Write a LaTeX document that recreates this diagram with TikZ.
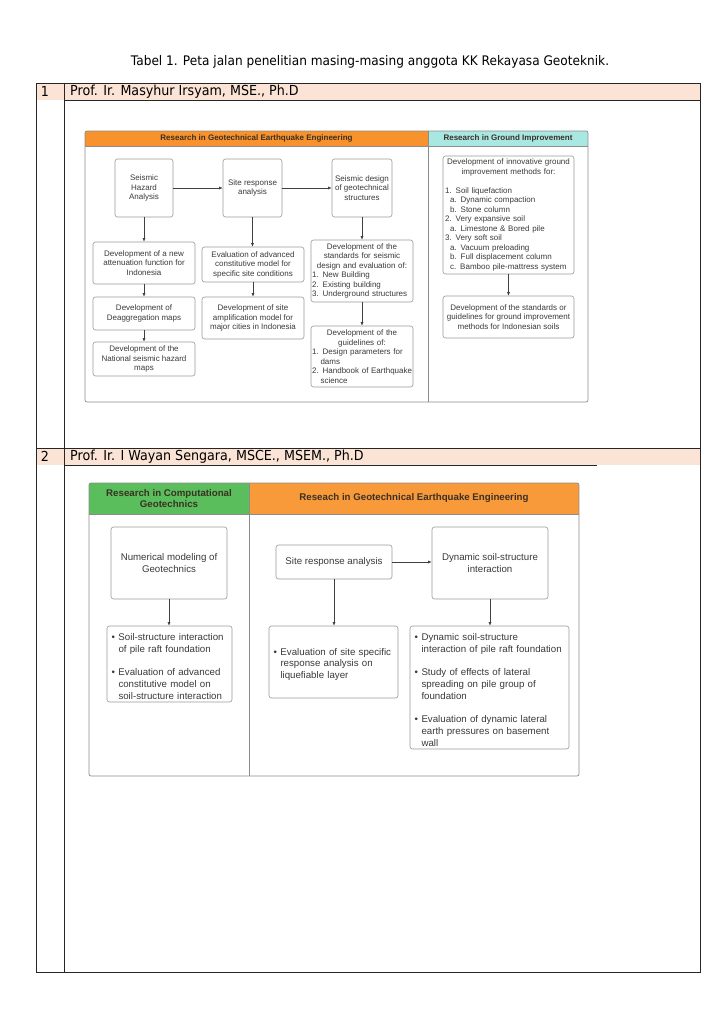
\documentclass[tikz,border=0pt]{standalone}
\usepackage{fontspec}
\setmainfont{Liberation Sans}
\newfontfamily\tabfont[FakeStretch=0.92]{DejaVu Sans}
\usetikzlibrary{arrows.meta}
\setlength{\parindent}{0pt}
\definecolor{peach}{HTML}{FBE4D5}
\definecolor{dorange}{HTML}{F7922C}
\definecolor{dorangeb}{HTML}{F89A3A}
\definecolor{dcyan}{HTML}{A9E8E2}
\definecolor{dgreen}{HTML}{5BBE5C}
\definecolor{boxgray}{HTML}{9A9A9A}
\definecolor{framegray}{HTML}{8C8C8C}
\definecolor{txtgray}{HTML}{3A3A3A}
\definecolor{hdrtxt}{HTML}{3B3025}
\newcommand{\fa}{\fontsize{8}{9.5}\selectfont}
\newcommand{\fb}{\fontsize{9.7}{11.8}\selectfont}
\newcommand{\hpar}[1]{\par\hangindent=#1\hangafter=1\noindent}
\newcommand{\bpar}{\par\hangindent=10pt\hangafter=1\noindent\makebox[10pt][l]{\hspace{3pt}\textbullet}}
\begin{document}
\begin{tikzpicture}[x=1pt,y=-1pt,
 tabline/.style={draw=black!85,line width=0.8pt},
 tabtext/.style={font=\tabfont\fontsize{13.2}{15}\selectfont, inner sep=0pt, text=black},
 tabhead/.style={font=\tabfont\fontsize{13.8}{15}\selectfont, inner sep=0pt, text=black},
 boxbase/.style={draw=boxgray, line width=0.6pt, rounded corners=2.5pt, fill=white, text=txtgray, inner ysep=1pt},
 bxa/.style={boxbase, font=\fa, align=center, inner xsep=1pt},
 bxat/.style={boxbase, font=\fa, inner xsep=1pt},
 bxb/.style={boxbase, font=\fb, align=center, inner xsep=2pt},
 bxbt/.style={boxbase, font=\fb, inner xsep=1.5pt},
 frame/.style={draw=framegray,line width=0.7pt,rounded corners=2pt},
 divline/.style={draw=framegray,line width=0.6pt},
 arr/.style={draw=black!75,line width=0.6pt,-{Latex[length=3.5pt,width=3pt]}},
 hdra/.style={font=\fa\bfseries, text=hdrtxt, inner sep=0pt},
 hdrb/.style={font=\fb\bfseries, text=hdrtxt, inner sep=0pt, align=center},
]
\useasboundingbox[fill=white] (0,0) rectangle (724,1024);
% ---------- table ----------
\fill[peach] (36,83) rectangle (700,100);
\fill[peach] (36,448) rectangle (700,465);
\draw[tabline] (36,83) rectangle (700,972);
\draw[tabline] (64,83) -- (64,972);
\draw[tabline] (64,100) -- (700,100);
\draw[tabline] (36,448) -- (700,448);
\draw[tabline] (64,465) -- (597,465);
\node[tabtext] (title) at (370,62) {Tabel 1. Peta jalan penelitian masing-masing anggota KK Rekayasa Geoteknik.};
\node[tabhead] (n1) at (45,91.5) {1};
\node[tabhead,anchor=west] (p1) at (70,91.5) {Prof. Ir. Masyhur Irsyam, MSE., Ph.D};
\node[tabhead] (n2) at (45,456.5) {2};
\node[tabhead,anchor=west] (p2) at (70,456.5) {Prof. Ir. I Wayan Sengara, MSCE., MSEM., Ph.D};
% ---------- diagram 1 frame ----------
\fill[white,rounded corners=2pt] (85,131) rectangle (588,402);
\begin{scope}
\clip[rounded corners=2pt] (85,131) rectangle (588,402);
\fill[dorange] (85,131) rectangle (428,146);
\fill[dcyan] (428,131) rectangle (588,146);
\end{scope}
\draw[divline] (85,146) -- (588,146);
\draw[divline] (428,131) -- (428,402);
\draw[frame] (85,131) rectangle (588,402);
\node[hdra] (h1a) at (256.5,138.5) {Research in Geotechnical Earthquake Engineering};
\node[hdra] (h1b) at (508,138.5) {Research in Ground Improvement};
% ---------- diagram 1 boxes ----------
\node[bxa, minimum width=58, minimum height=58] (sha) at (144,188) {Seismic\\Hazard\\Analysis};
\node[bxa, minimum width=59, minimum height=58] (sra) at (252.5,188) {Site response\\analysis};
\node[bxa, minimum width=60, minimum height=58] (sdg) at (362,188) {Seismic design\\of geotechnical\\structures};
\node[bxa, minimum width=102, minimum height=42] (att) at (144,263) {Development of a new\\attenuation function for\\Indonesia};
\node[bxa, minimum width=102, minimum height=33] (dea) at (144,313.5) {Development of\\Deaggregation maps};
\node[bxa, minimum width=102, minimum height=34] (nat) at (144,359) {Development of the\\National seismic hazard\\maps};
\node[bxa, minimum width=102, minimum height=35] (eva) at (253,264.5) {Evaluation of advanced\\constitutive model for\\specific site conditions};
\node[bxa, minimum width=102, minimum height=42] (amp) at (253,318) {Development of site\\amplification model for\\major cities in Indonesia};
\node[bxat, text width=100, minimum height=62] (std) at (362,271) {\centering Development of the\\standards for seismic\\design and evaluation of:\par\raggedright\mbox{1. New Building}\par\mbox{2. Existing building}\par\mbox{3. Underground structures}\par};
\node[bxat, text width=100, minimum height=61] (gdl) at (362,356.5) {\centering Development of the\\guidelines of:\par\raggedright\hpar{8.5pt}\mbox{1. Design parameters for}\newline\mbox{dams}\hpar{8.5pt}\mbox{2. Handbook of Earthquake}\newline\mbox{science}\par};
\node[bxat, text width=127, inner xsep=2pt, minimum height=118] (gi1) at (508.5,215) {\centering Development of innovative ground\\improvement methods for:\par\vspace{9.5pt}\raggedright\mbox{1. Soil liquefaction}\par\mbox{\hspace*{5pt}a. Dynamic compaction}\par\mbox{\hspace*{5pt}b. Stone column}\par\mbox{2. Very expansive soil}\par\mbox{\hspace*{5pt}a. Limestone \& Bored pile}\par\mbox{3. Very soft soil}\par\mbox{\hspace*{5pt}a. Vacuum preloading}\par\mbox{\hspace*{5pt}b. Full displacement column}\par\mbox{\hspace*{5pt}c. Bamboo pile-mattress system}\par};
\node[bxa, minimum width=131, minimum height=42] (gi2) at (508.5,317) {Development of the standards or\\guidelines for ground improvement\\methods for Indonesian soils};
% ---------- diagram 1 arrows ----------
\draw[arr] (sha) -- (sra);
\draw[arr] (sra) -- (sdg);
\draw[arr] (sha) -- (att);
\draw[arr] (att) -- (dea);
\draw[arr] (dea) -- (nat);
\draw[arr] (sra.south) -- (sra.south |- eva.north);
\draw[arr] (eva) -- (amp);
\draw[arr] (sdg) -- (std);
\draw[arr] (std) -- (gdl);
\draw[arr] (gi1) -- (gi2);
% ---------- diagram 2 frame ----------
\fill[white,rounded corners=2pt] (89,483) rectangle (579,776);
\begin{scope}
\clip[rounded corners=2pt] (89,483) rectangle (579,776);
\fill[dgreen] (89,483) rectangle (249,514);
\fill[dorangeb] (249,483) rectangle (579,514);
\end{scope}
\draw[divline] (89,514) -- (579,514);
\draw[divline] (249,483) -- (249,776);
\draw[frame] (89,483) rectangle (579,776);
\node[hdrb] (h2a) at (169,498.5) {Research in Computational\\Geotechnics};
\node[hdrb] (h2b) at (414,498.5) {Reseach in Geotechnical Earthquake Engineering};
% ---------- diagram 2 boxes ----------
\node[bxb, minimum width=116, minimum height=72] (num) at (169,563) {Numerical modeling of\\Geotechnics};
\node[bxbt, text width=122, minimum height=76] (ssi) at (169.5,664) {\raggedright\bpar\mbox{Soil-structure interaction}\newline\mbox{of pile raft foundation}\par\vspace{11.8pt}\bpar\mbox{Evaluation of advanced}\newline\mbox{constitutive model on}\newline\mbox{soil-structure interaction}\par};
\node[bxb, minimum width=116, minimum height=34] (srs) at (334,562) {Site response analysis};
\node[bxbt, text width=126, minimum height=72] (evs) at (333.5,662) {\raggedright\bpar\mbox{Evaluation of site specific}\newline\mbox{response analysis on}\newline\mbox{liquefiable layer}\par};
\node[bxb, minimum width=116, minimum height=72] (dyn) at (490,563) {Dynamic soil-structure\\interaction};
\node[bxbt, text width=156, minimum height=123] (dsl) at (489.5,687.5) {\raggedright\bpar\mbox{Dynamic soil-structure}\newline\mbox{interaction of pile raft foundation}\par\vspace{11.8pt}\bpar\mbox{Study of effects of lateral}\newline\mbox{spreading on pile group of}\newline\mbox{foundation}\par\vspace{11.8pt}\bpar\mbox{Evaluation of dynamic lateral}\newline\mbox{earth pressures on basement}\newline\mbox{wall}\par};
% ---------- diagram 2 arrows ----------
\draw[arr] (num.south) -- (num.south |- ssi.north);
\draw[arr] (srs.east) -- (srs.east -| dyn.west);
\draw[arr] (srs.south) -- (srs.south |- evs.north);
\draw[arr] (dyn.south) -- (dyn.south |- dsl.north);
\end{tikzpicture}
\end{document}
